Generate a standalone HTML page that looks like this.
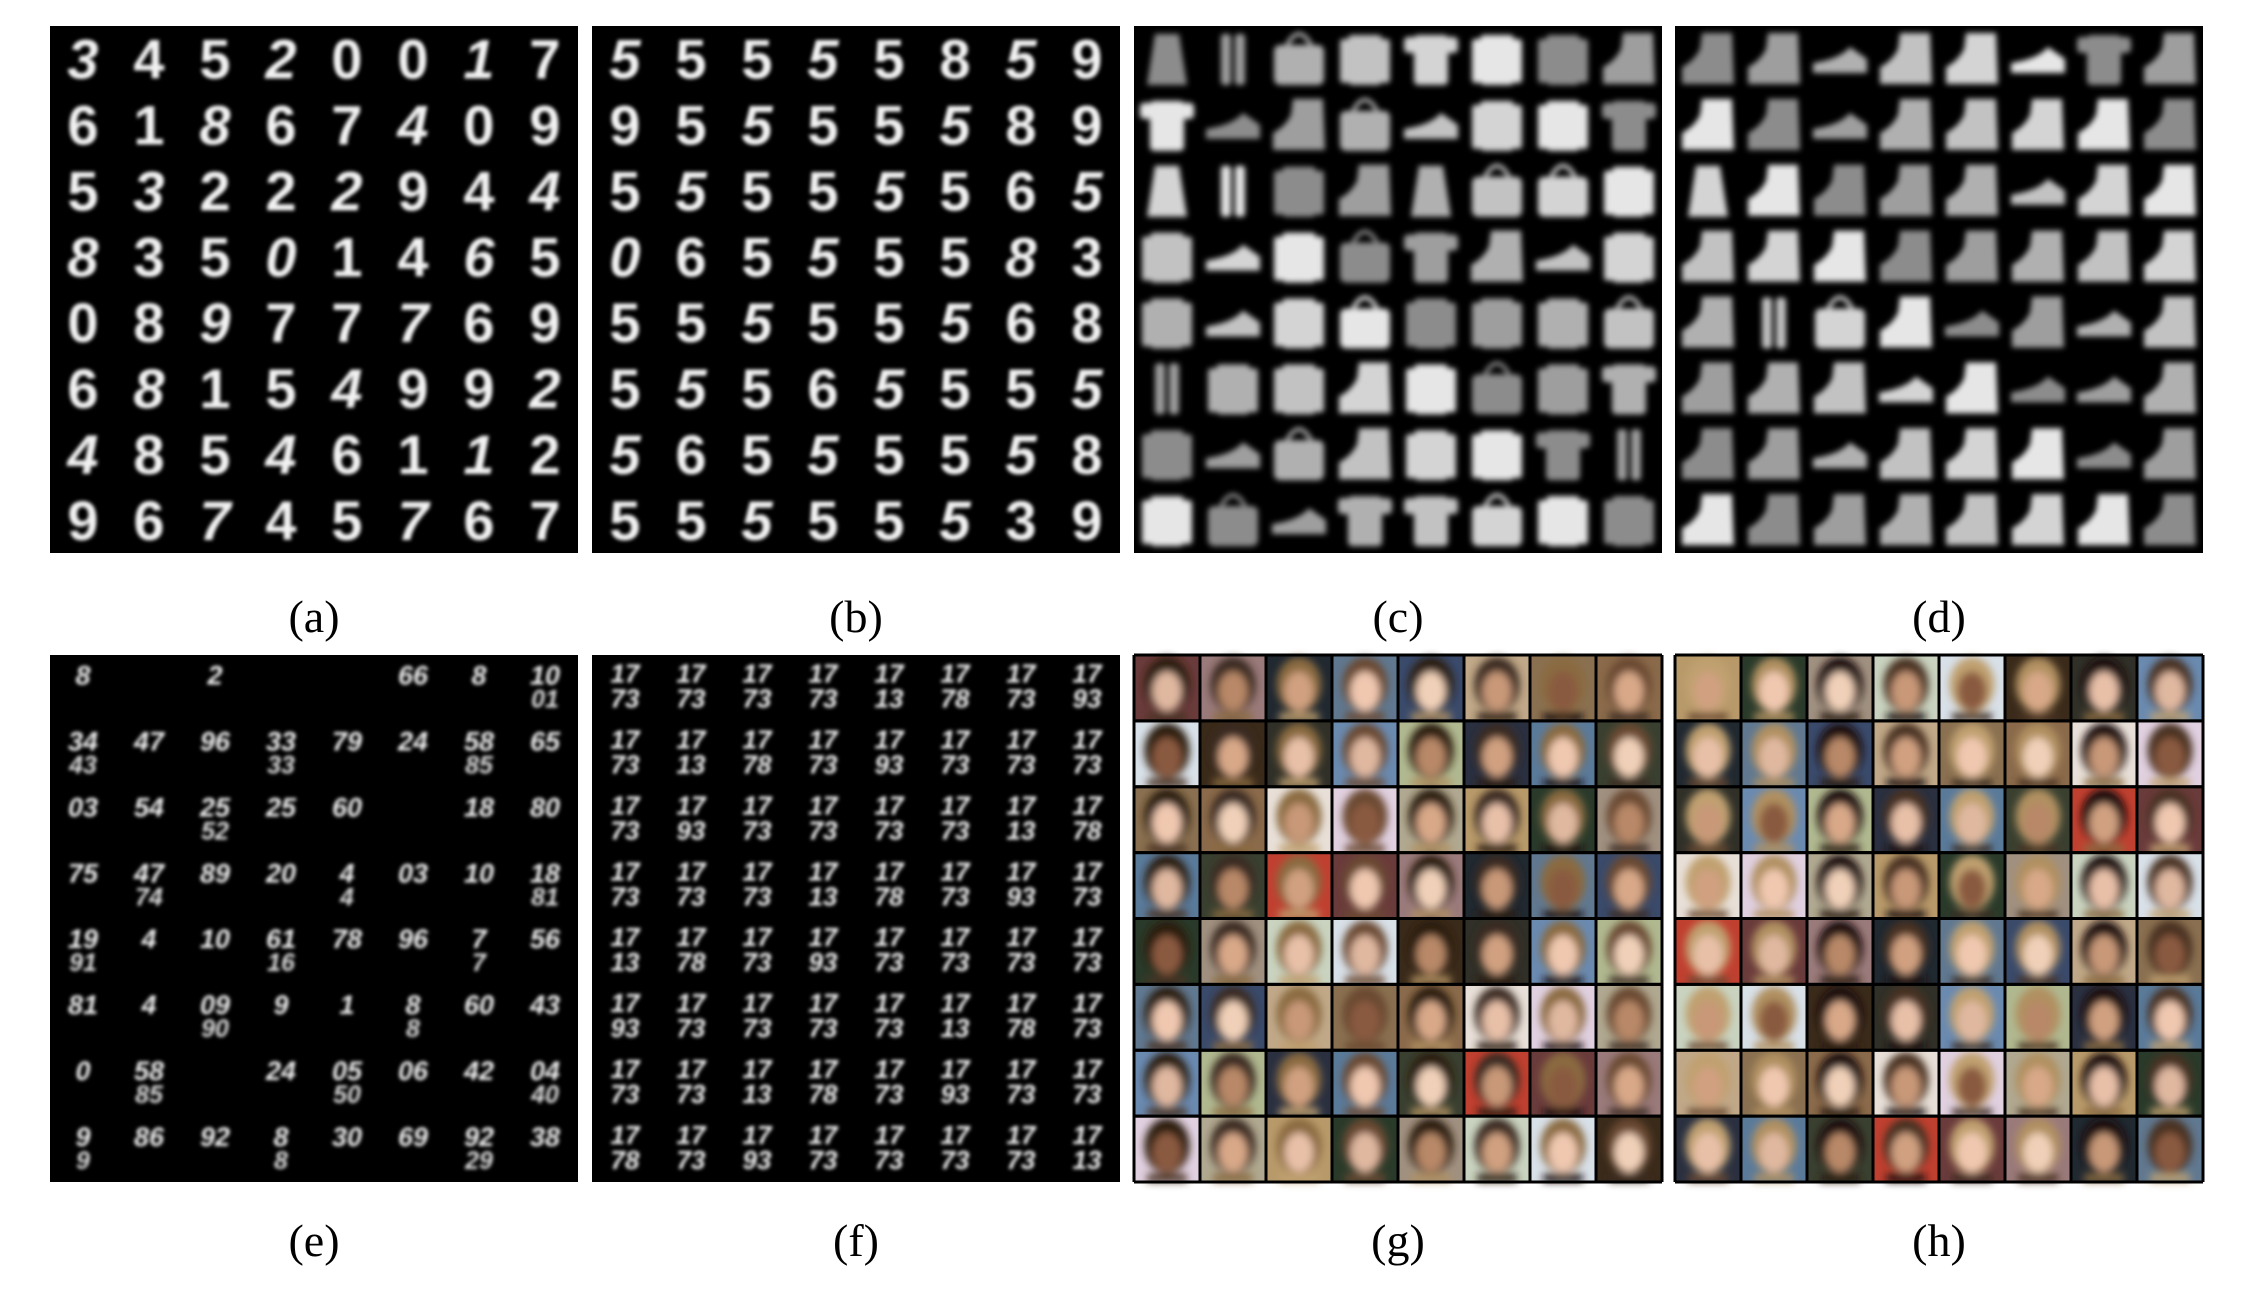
<!DOCTYPE html>
<html><head><meta charset="utf-8">
<style>
html,body{margin:0;padding:0;background:#fff;}
svg{display:block;}
</style></head>
<body>
<svg id="fig" width="2256" height="1304" viewBox="0 0 2256 1304" xmlns="http://www.w3.org/2000/svg">
<defs>
<filter id="blur1" x="-20%" y="-20%" width="140%" height="140%"><feGaussianBlur stdDeviation="1.8"/></filter>
<filter id="blur2" x="-20%" y="-20%" width="140%" height="140%"><feGaussianBlur stdDeviation="3"/></filter>
<filter id="blur4" x="-30%" y="-30%" width="160%" height="160%"><feGaussianBlur stdDeviation="4"/></filter>
</defs>
<g id="layer"></g>
</svg>
<script>
const NS='http://www.w3.org/2000/svg';
const layer=document.getElementById('layer');
const panelX=[50,592,1134,1675];
const rowY=[26,655];
const panelW=528, panelH=527;
const panelLabels=['(a)','(b)','(c)','(d)','(e)','(f)','(g)','(h)'];
const digitsA=['34520017','61867409','53222944','83501465','08977769','68154992','48546112','96745767'];
const digitsB=['55555859','95555589','55555565','06555583','55555568','55565555','56555558','55555539'];
const fashionC=['DPGSTSSB','TKBGKSST','DPSBDGGS','SKSGTBKS','SKSGSSSG','PSSBSGST','SKGBSSTP','SGKTTGSS'];
const fashionD=['BBKBBKTB','BBKBBBBB','DBBBBKBB','BBBBBBBB','BPGBKBKB','BBBKBKKB','BBKBBBKB','BBBBBBBB'];
const eTexts=[['8','','2','','','66','8','10'],['34','47','96','33','79','24','58','65'],['03','54','25','25','60','','18','80'],['75','47','89','20','4','03','10','18'],['19','4','10','61','78','96','7','56'],['81','4','09','9','1','8','60','43'],['0','58','','24','05','06','42','04'],['9','86','92','8','30','69','92','38']];
const faceBg=['#6a3b3b','#8a6a4a','#c9d3c0','#5a7a9a','#3a4a6a','#b89a6a','#6a8ab0','#9a7a7a','#e8e0d8','#d8e0e8','#3a4030','#c0a888','#2a3a2a','#b0b890','#202830','#e0d0e0','#3a2a1a','#c04030','#8a7050','#a09080','#2a3040','#607890','#b0a890','#303028'];
const skin=['#e0b8a0','#d8a888','#c89878','#f0c8b0','#b88868','#e8c0a8','#8a5a40','#f0d0b8','#d0a080'];
const hair=['#2a1a10','#4a3020','#6a4a30','#1a1010','#8a6a40','#b09060','#3a2a20','#c0a070'];

function el(tag,attrs,parent){const e=document.createElementNS(NS,tag);for(const k in attrs)e.setAttribute(k,attrs[k]);(parent||layer).appendChild(e);return e;}

function panel(i){
  const x=panelX[i%4], y=rowY[Math.floor(i/4)];
  const g=el('g',{});
  
  
  el('rect',{x:x,y:y,width:panelW,height:panelH,fill:'#000'},g);
  const lab=el('text',{x:x+panelW/2,y:(i<4?632:1256),'text-anchor':'middle','font-family':'Liberation Serif, serif','font-size':'46',fill:'#000'},g);
  lab.textContent=panelLabels[i];
  
  
  return {g,x,y};
}
const cw=panelW/8, ch=panelH/8;

[[0,digitsA],[1,digitsB]].forEach(([i,rows])=>{
  const p=panel(i);
  const gg=el('g',{filter:'url(#blur1)'},p.g);
  rows.forEach((row,r)=>{[...row].forEach((d,c)=>{
    const t=el('text',{x:p.x+c*cw+cw/2,y:p.y+r*ch+ch*0.8,'text-anchor':'middle','font-family':'Liberation Sans, sans-serif','font-size':'56','font-weight':'bold','font-style':((r+c)%3==0?'italic':'normal'),fill:'#f2f2f2'},gg);
    t.textContent=d;
  });});
});

function fashion(parent,type,cx,cy,col){
  if(type=='S'||type=='T'){
    el('rect',{x:cx-17,y:cy-24,width:34,height:50,rx:4,fill:col},parent);
    if(type=='S'){el('rect',{x:cx-25,y:cy-20,width:9,height:44,rx:3,fill:col},parent);el('rect',{x:cx+16,y:cy-20,width:9,height:44,rx:3,fill:col},parent);}
    else{el('rect',{x:cx-27,y:cy-22,width:54,height:16,rx:4,fill:col},parent);}
  } else if(type=='D'){el('path',{d:`M${cx-12} ${cy-25}L${cx+12} ${cy-25}L${cx+20} ${cy+26}L${cx-20} ${cy+26}Z`,fill:col},parent);}
  else if(type=='P'){el('rect',{x:cx-12,y:cy-25,width:10,height:51,rx:3,fill:col},parent);el('rect',{x:cx+2,y:cy-25,width:10,height:51,rx:3,fill:col},parent);}
  else if(type=='K'){el('path',{d:`M${cx-27} ${cy+14}L${cx-27} ${cy+4}Q${cx} ${cy} ${cx+10} ${cy-12}L${cx+27} ${cy}L${cx+27} ${cy+14}Z`,fill:col},parent);}
  else if(type=='B'){el('path',{d:`M${cx-26} ${cy+25}L${cx-26} ${cy+8}Q${cx-14} ${cy+2} ${cx-8} ${cy-10}L${cx-6} ${cy-26}L${cx+24} ${cy-26}L${cx+26} ${cy+25}Z`,fill:col},parent);}
  else if(type=='G'){el('rect',{x:cx-25,y:cy-14,width:50,height:40,rx:6,fill:col},parent);el('path',{d:`M${cx-12} ${cy-14}Q${cx} ${cy-36} ${cx+12} ${cy-14}`,stroke:col,'stroke-width':4,fill:'none'},parent);}
}
[[2,fashionC],[3,fashionD]].forEach(([i,rows])=>{
  const p=panel(i);
  const gg=el('g',{filter:'url(#blur2)'},p.g);
  rows.forEach((row,r)=>{[...row].forEach((t,c)=>{
    const v=140+((r*5+c*7)%6)*18;
    fashion(gg,t,p.x+c*cw+cw/2,p.y+r*ch+ch/2,`rgb(${v},${v},${v})`);
  });});
});

(function(){
  const p=panel(4);
  const gg=el('g',{filter:'url(#blur1)'},p.g);
  eTexts.forEach((row,r)=>row.forEach((s,c)=>{
    if(!s)return;
    const t=el('text',{x:p.x+c*cw+cw/2,y:p.y+r*ch+ch*0.45,'text-anchor':'middle','font-family':'Liberation Sans, sans-serif','font-size':'27','font-weight':'bold','font-style':'italic',fill:'#f0f0f0'},gg);
    t.textContent=s;
    if((r+c)%3==1){const t2=el('text',{x:p.x+c*cw+cw/2,y:p.y+r*ch+ch*0.8,'text-anchor':'middle','font-family':'Liberation Sans, sans-serif','font-size':'25','font-weight':'bold','font-style':'italic',fill:'#ddd'},gg);t2.textContent=s.split('').reverse().join('');}
  }));
})();
(function(){
  const p=panel(5);
  const gg=el('g',{filter:'url(#blur1)'},p.g);
  const tops=['17','17','17','17','17','17','17','17'];
  const bots=['73','73','73','73','13','78','73','93'];
  for(let r=0;r<8;r++)for(let c=0;c<8;c++){
    const t=el('text',{x:p.x+c*cw+cw/2,y:p.y+r*ch+ch*0.42,'text-anchor':'middle','font-family':'Liberation Sans, sans-serif','font-size':'26','font-weight':'bold','font-style':'italic',fill:'#f0f0f0'},gg);t.textContent=tops[(r+c)%8];
    const t2=el('text',{x:p.x+c*cw+cw/2,y:p.y+r*ch+ch*0.8,'text-anchor':'middle','font-family':'Liberation Sans, sans-serif','font-size':'26','font-weight':'bold','font-style':'italic',fill:'#f0f0f0'},gg);t2.textContent=bots[(r*3+c)%8];
  }
})();
[6,7].forEach(i=>{
  const p=panel(i);
  for(let r=0;r<8;r++)for(let c=0;c<8;c++){
    const k=r*8+c+(i==7?11:0);
    const cx=p.x+c*cw, cy=p.y+r*ch;
    const cell=el('g',{},p.g);
    el('rect',{x:cx+1.5,y:cy+1.5,width:cw-3,height:ch-3,fill:faceBg[(k*7+r)%faceBg.length]},cell);
    const fg=el('g',{filter:'url(#blur4)'},cell);
    el('ellipse',{cx:cx+cw/2,cy:cy+ch*0.45,rx:cw*0.34,ry:ch*0.42,fill:hair[(k*5+c)%hair.length]},fg);
    el('ellipse',{cx:cx+cw/2,cy:cy+ch*0.55,rx:cw*0.22,ry:ch*0.3,fill:skin[(k*4+r)%skin.length]},fg);
    el('rect',{x:cx+cw*0.2,y:cy+ch*0.88,width:cw*0.6,height:ch*0.12,fill:hair[(k*3+1)%hair.length]},fg);
  }
  for(let j=0;j<=8;j++){
    el('line',{x1:p.x+j*cw,y1:p.y,x2:p.x+j*cw,y2:p.y+panelH,stroke:'#000','stroke-width':3},p.g);
    el('line',{x1:p.x,y1:p.y+j*ch,x2:p.x+panelW,y2:p.y+j*ch,stroke:'#000','stroke-width':3},p.g);
  }
});
</script>
</body></html>
